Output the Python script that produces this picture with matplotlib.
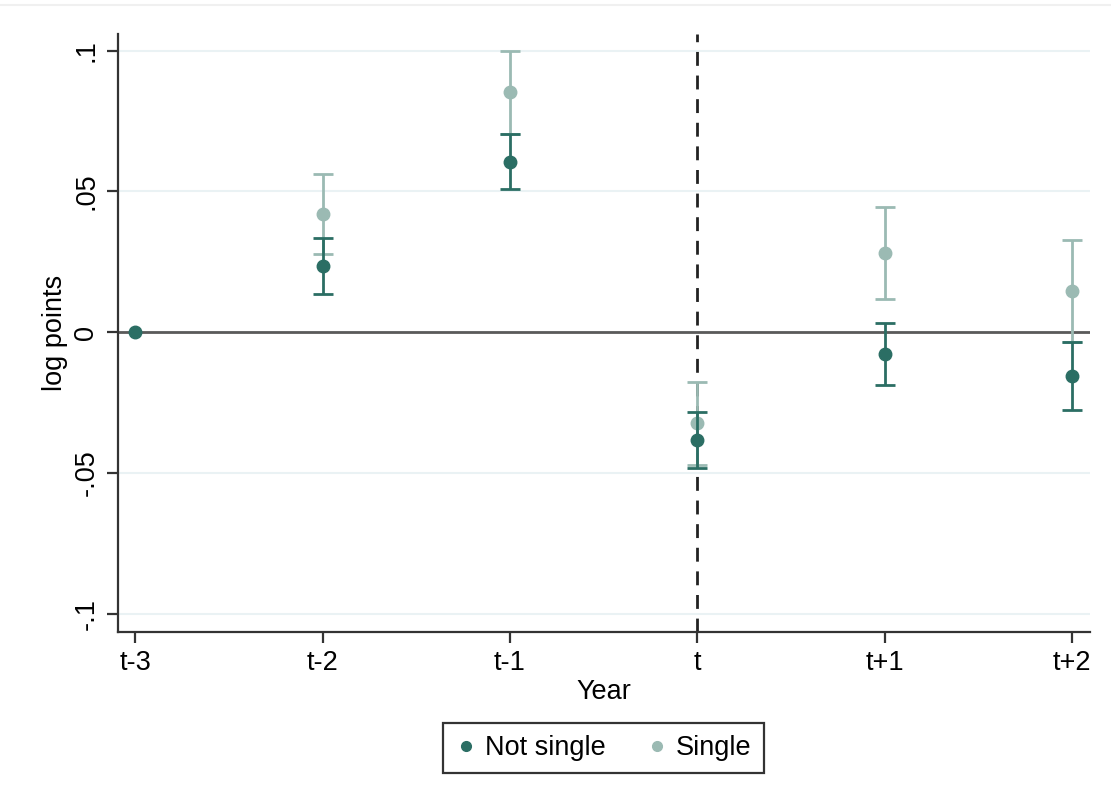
import numpy as np
import matplotlib
matplotlib.use('Agg')
import matplotlib.pyplot as plt
from matplotlib.lines import Line2D

plt.rcParams['font.family'] = ['Liberation Sans', 'DejaVu Sans']

# datos
years = ['t-3', 't-2', 't-1', 't', 't+1', 't+2']

notsingle_b  = [0.0, 0.0236, 0.0605, -0.0383, -0.0077, -0.0156]
notsingle_hi = [0.0, 0.0334, 0.0705, -0.0282, 0.0033, -0.0034]
notsingle_lo = [0.0, 0.0137, 0.0508, -0.0481, -0.0187, -0.0276]

single_b  = [np.nan, 0.0419, 0.0852, -0.0321, 0.0281, 0.0146]
single_hi = [np.nan, 0.0563, 0.0999, -0.0175, 0.0444, 0.0327]
single_lo = [np.nan, 0.0277, 0.0705, -0.0471, 0.0117, -0.0035]

yticks = [-0.1, -0.05, 0, 0.05, 0.1]
yticklabels = ['-.1', '-.05', '0', '.05', '.1']

c_dark = '#2b6e64'
c_light = '#9bbab3'

fig = plt.figure(figsize=(11.11, 8.09), dpi=100)
ax = fig.add_axes([0.1058, 0.2188, 0.8752, 0.7392])

x = np.arange(len(years))

# rejilla y lineas de referencia
for yv in yticks:
  ax.axhline(yv, color='#eaf2f4', lw=1.5, zorder=0)
ax.axhline(0, color='#5a5a5a', lw=2, zorder=1)
ax.axvline(3, color='#222222', lw=2, ls=(0, (5, 3.5)), zorder=1)

# barras de error (single primero, debajo)
s_b = np.array(single_b)
err_s = [s_b - np.array(single_lo), np.array(single_hi) - s_b]
ax.errorbar(x, s_b, yerr=err_s, fmt='o', color=c_light, ms=9,
            elinewidth=2, capsize=7, capthick=2, zorder=2)

n_b = np.array(notsingle_b)
err_n = [n_b - np.array(notsingle_lo), np.array(notsingle_hi) - n_b]
ax.errorbar(x[1:], n_b[1:], yerr=[err_n[0][1:], err_n[1][1:]], fmt='o', color=c_dark,
            ms=9, elinewidth=2, capsize=7, capthick=2, zorder=3)
ax.plot(x[0], n_b[0], 'o', color=c_dark, ms=9, zorder=3)

ax.set_xlim(-0.095, 5.095)
ax.set_ylim(-0.1064, 0.1059)
ax.set_xticks(x)
ax.set_xticklabels(years, fontsize=19.5)
ax.set_yticks(yticks)
ax.set_yticklabels(yticklabels, fontsize=19.5, rotation=90, va='center')

for s in ['top', 'right']:
  ax.spines[s].set_visible(False)
for s in ['left', 'bottom']:
  ax.spines[s].set_color('#333333')
  ax.spines[s].set_linewidth(1.6)
ax.tick_params(axis='both', length=8, width=1.6, color='#333333', pad=5)

ax.set_xlabel('Year', fontsize=19.5, labelpad=2)
ax.set_ylabel('log points', fontsize=19.5, labelpad=4)

handles = [Line2D([], [], ls='none', marker='o', color=c_dark, ms=7),
           Line2D([], [], ls='none', marker='o', color=c_light, ms=7)]
leg = fig.legend(handles, ['Not single', 'Single'], loc='center', ncol=2,
                 bbox_to_anchor=(0.543, 0.0754), fontsize=19.5, fancybox=False,
                 framealpha=1, edgecolor='#333333', handletextpad=0.3,
                 columnspacing=1.5, borderpad=0.45, borderaxespad=0,
                 handlelength=0.8)
leg.get_frame().set_linewidth(1.6)

# linea tenue superior del recuadro
fig.add_artist(Line2D([0.0, 1.0], [1 - 5 / 809, 1 - 5 / 809], color='#f0f0f0', lw=1.5))

fig.savefig('out.png', dpi=100)
